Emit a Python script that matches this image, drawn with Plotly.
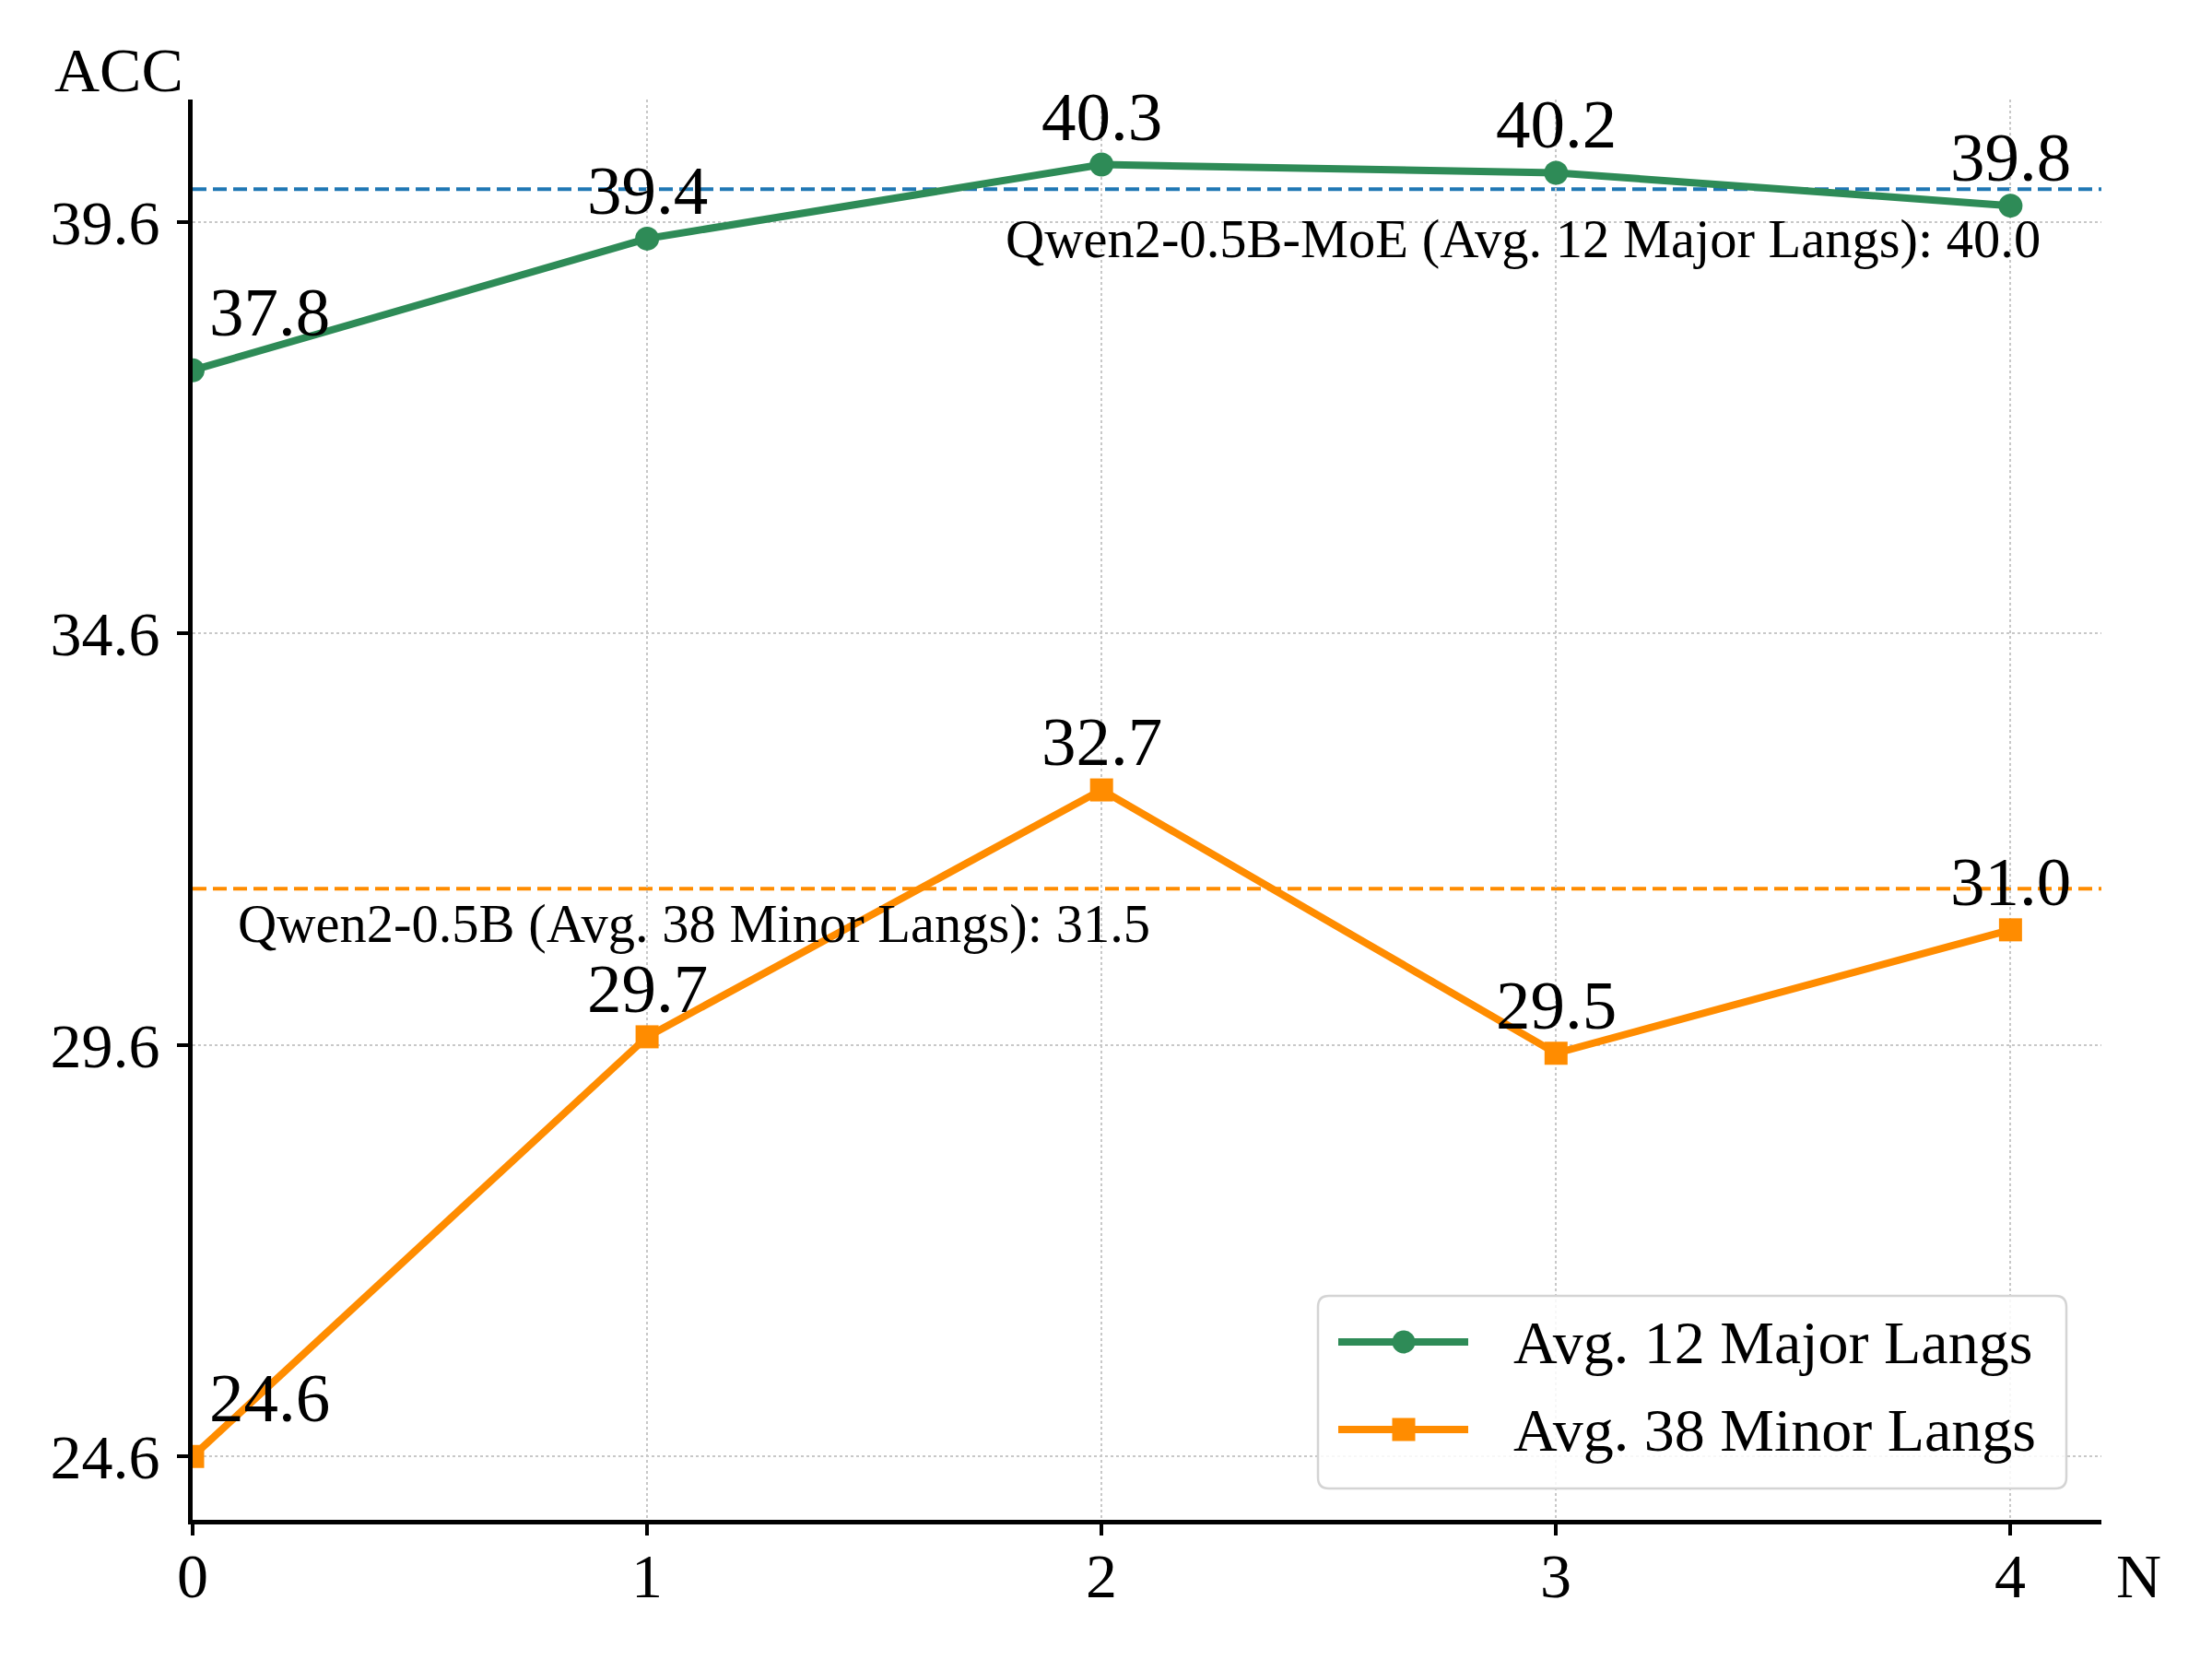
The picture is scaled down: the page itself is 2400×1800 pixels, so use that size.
import plotly.graph_objects as go

# ---- data ----
n_values = [0, 1, 2, 3, 4]
major_acc = [37.8, 39.4, 40.3, 40.2, 39.8]
minor_acc = [24.6, 29.7, 32.7, 29.5, 31.0]
major_name = "Avg. 12 Major Langs"
minor_name = "Avg. 38 Minor Langs"
baseline_major = 40.0
baseline_minor = 31.5
baseline_major_label = "Qwen2-0.5B-MoE (Avg. 12 Major Langs): 40.0"
baseline_minor_label = "Qwen2-0.5B (Avg. 38 Minor Langs): 31.5"
y_ticks = [24.6, 29.6, 34.6, 39.6]
x_ticks = [0, 1, 2, 3, 4]
x_ticktext = ["0", "1", "2", "3", "4"]

FONT = "Liberation Serif, Times New Roman, serif"
GREEN = "#2e8b57"
ORANGE = "#ff8c00"
BLUE = "#1f77b4"

# ---- layout geometry (figure pixels; page has an 8px body margin) ----
W, H = 2400, 1800
L, R, T, B = 201, 128, 100, 159
OFF = 8
PW = W - L - R
PH = H - T - B


def px(xp):
    return (xp - OFF - L) / PW


def py(yp):
    return 1 - (yp - OFF - T) / PH


fig = go.Figure()
fig.add_trace(go.Scatter(
    x=n_values, y=major_acc, mode="lines+markers", name=major_name,
    line=dict(color=GREEN, width=8),
    marker=dict(symbol="circle", size=26, color=GREEN),
    showlegend=False,
))
fig.add_trace(go.Scatter(
    x=n_values, y=minor_acc, mode="lines+markers", name=minor_name,
    line=dict(color=ORANGE, width=8),
    marker=dict(symbol="square", size=25, color=ORANGE),
    showlegend=False,
))

shapes = []
# baseline dashed lines
shapes.append(dict(type="line", xref="x domain", yref="y", x0=0, x1=1,
                   y0=baseline_major, y1=baseline_major,
                   line=dict(color=BLUE, width=4, dash="15px,7px"), layer="below"))
shapes.append(dict(type="line", xref="x domain", yref="y", x0=0, x1=1,
                   y0=baseline_minor, y1=baseline_minor,
                   line=dict(color=ORANGE, width=4, dash="15px,7px"), layer="below"))

# ---- custom legend (rounded box, long line samples, full-size markers) ----
bx0, bx1, by0, by1, rad = 1430, 2242, 1406, 1615, 12
rx = rad / PW
ry = rad / PH
X0, X1, Y0, Y1 = px(bx0), px(bx1), py(by0), py(by1)
path = (f"M{X0 + rx},{Y0} L{X1 - rx},{Y0} Q{X1},{Y0} {X1},{Y0 - ry} "
        f"L{X1},{Y1 + ry} Q{X1},{Y1} {X1 - rx},{Y1} "
        f"L{X0 + rx},{Y1} Q{X0},{Y1} {X0},{Y1 + ry} "
        f"L{X0},{Y0 - ry} Q{X0},{Y0} {X0 + rx},{Y0} Z")
shapes.append(dict(type="path", xref="paper", yref="paper", path=path,
                   fillcolor="rgba(255,255,255,0.85)",
                   line=dict(color="#d4d4d4", width=2.5), layer="above"))

legend_rows = [(major_name, GREEN, "circle", 1456), (minor_name, ORANGE, "square", 1551)]
annotations = []
for name, color, sym, yrow in legend_rows:
    yc = py(yrow)
    shapes.append(dict(type="line", xref="paper", yref="paper",
                       x0=px(1452), x1=px(1593), y0=yc, y1=yc,
                       line=dict(color=color, width=8), layer="above"))
    shapes.append(dict(type="circle" if sym == "circle" else "rect",
                       xref="paper", yref="paper",
                       xsizemode="pixel", ysizemode="pixel",
                       xanchor=px(1523), yanchor=yc,
                       x0=-12.5, x1=12.5, y0=-12.5, y1=12.5,
                       fillcolor=color, line=dict(width=0), layer="above"))
    annotations.append(dict(x=px(1640), y=yc, xref="paper", yref="paper",
                            text=name, showarrow=False,
                            xanchor="left", yanchor="middle",
                            font=dict(family=FONT, size=66, color="black")))

# data labels
for series in (major_acc, minor_acc):
    for i, (xv, yv) in enumerate(zip(n_values, series)):
        if i == 0:
            annotations.append(dict(x=xv, y=yv, xref="x", yref="y", text=f"{yv:.1f}",
                                    showarrow=False, xanchor="left", yanchor="bottom",
                                    xshift=16, yshift=20,
                                    font=dict(family=FONT, size=75, color="black")))
        else:
            annotations.append(dict(x=xv, y=yv, xref="x", yref="y", text=f"{yv:.1f}",
                                    showarrow=False, xanchor="center", yanchor="bottom",
                                    yshift=9,
                                    font=dict(family=FONT, size=75, color="black")))

# baseline labels
annotations.append(dict(x=4.07, y=baseline_major - 0.22, xref="x", yref="y",
                        text=baseline_major_label, showarrow=False,
                        xanchor="right", yanchor="top",
                        font=dict(family=FONT, size=58.5, color="black")))
annotations.append(dict(x=0.095, y=baseline_minor - 0.04, xref="x", yref="y",
                        text=baseline_minor_label, showarrow=False,
                        xanchor="left", yanchor="top",
                        font=dict(family=FONT, size=58.5, color="black")))
# x tick labels
for xv, lab in zip(x_ticks, x_ticktext):
    annotations.append(dict(x=xv, y=0, xref="x", yref="paper", text=lab,
                            showarrow=False, xanchor="center", yanchor="top",
                            yshift=-21,
                            font=dict(family=FONT, size=68, color="black")))
# axis labels
annotations.append(dict(x=px(57), y=py(116), xref="paper", yref="paper", text="ACC",
                        showarrow=False, xanchor="left", yanchor="bottom",
                        font=dict(family=FONT, size=68, color="black")))
annotations.append(dict(x=px(2294), y=py(1750), xref="paper", yref="paper", text="N",
                        showarrow=False, xanchor="left", yanchor="bottom",
                        font=dict(family=FONT, size=68, color="black")))

fig.update_layout(
    width=W, height=H,
    margin=dict(l=L, r=R, t=T, b=B),
    paper_bgcolor="white", plot_bgcolor="white",
    font=dict(family=FONT, size=68, color="black"),
    annotations=annotations,
    shapes=shapes,
    showlegend=False,
)
fig.update_xaxes(
    range=[0, 4.2], tickvals=x_ticks, showticklabels=False,
    showline=True, linecolor="black", linewidth=5,
    ticks="outside", ticklen=12, tickwidth=4, tickcolor="black",
    showgrid=True, gridcolor="#c8c8c8", gridwidth=2, griddash="dot",
    zeroline=False,
)
fig.update_yaxes(
    range=[23.83, 41.09], tickvals=y_ticks, ticktext=[f"{v:.1f}" for v in y_ticks],
    showline=True, linecolor="black", linewidth=5,
    ticks="outside", ticklen=12, tickwidth=4, tickcolor="black",
    showgrid=True, gridcolor="#c8c8c8", gridwidth=2, griddash="dot",
    zeroline=False, ticklabelstandoff=5,
    tickfont=dict(family=FONT, size=68, color="black"),
)

fig.write_html("out.html")
